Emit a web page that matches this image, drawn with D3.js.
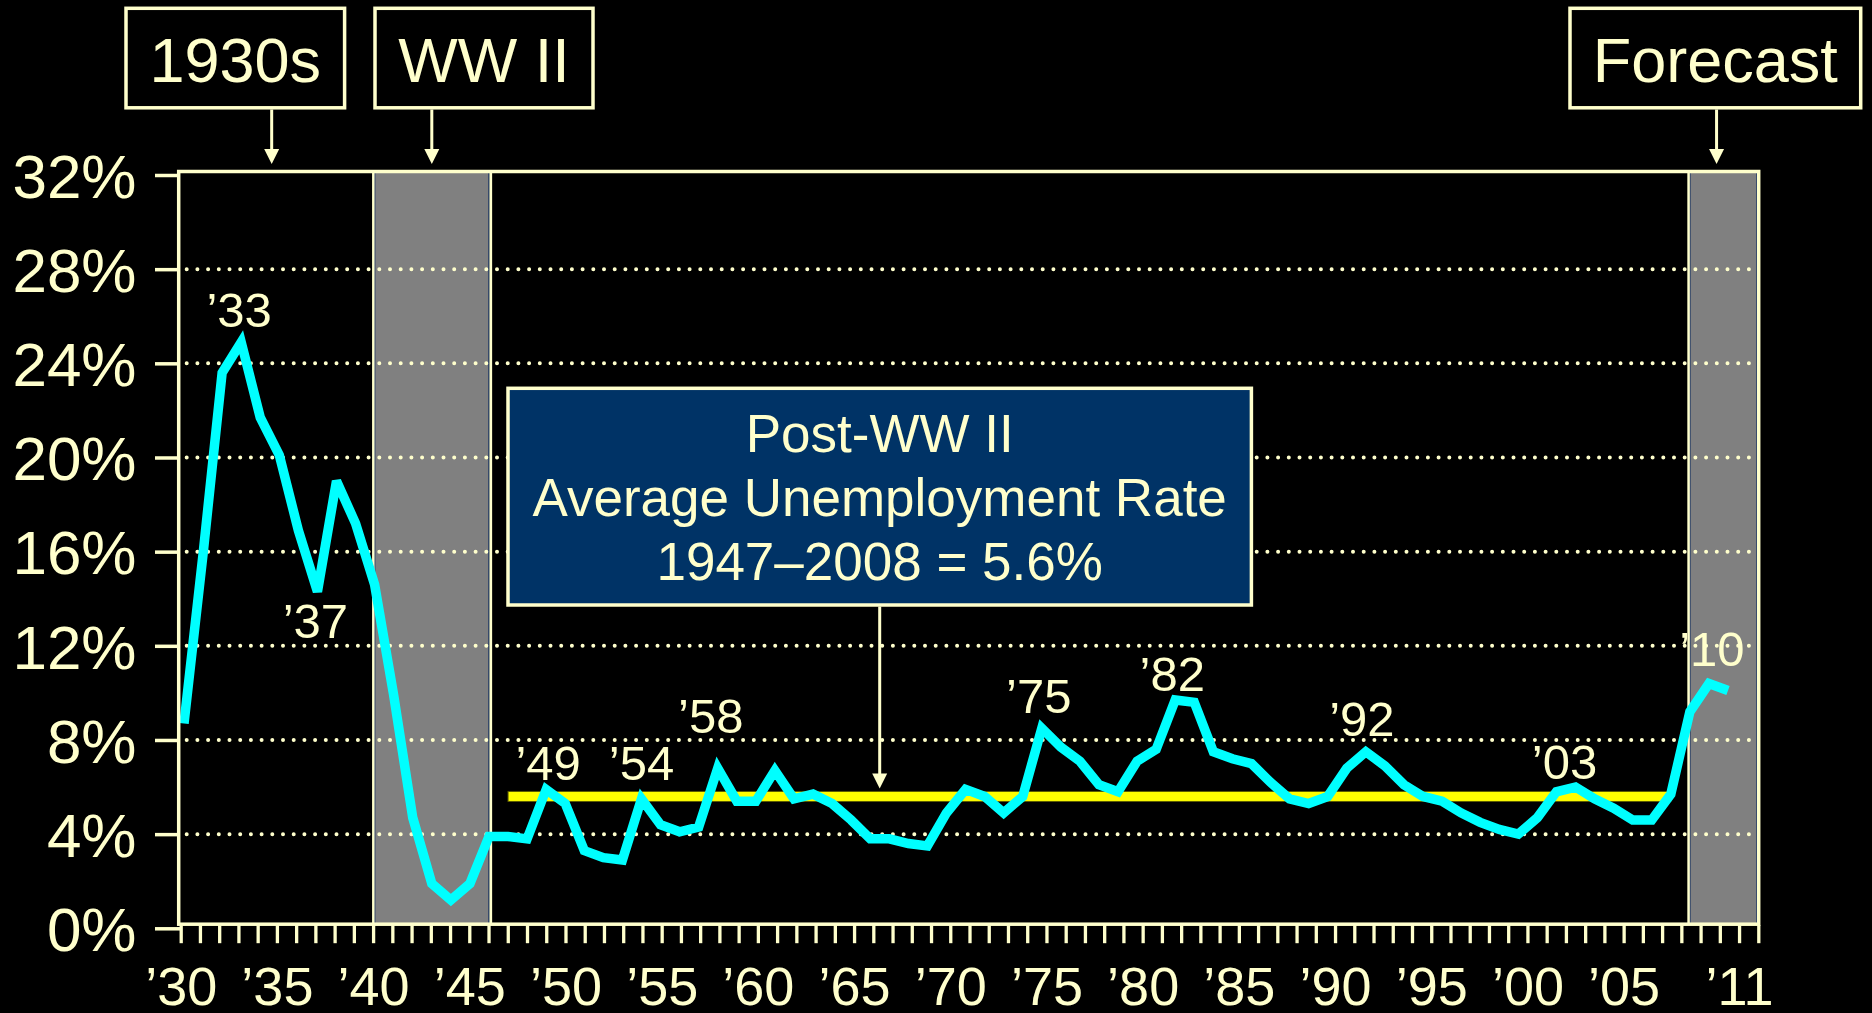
<!DOCTYPE html>
<html>
<head>
<meta charset="utf-8">
<script src="https://cdn.jsdelivr.net/npm/d3@7"></script>
<style>
body { margin: 0; background: #000; }
svg { display: block; font-family: "Liberation Sans", Arial, sans-serif; }
</style>
</head>
<body>
<div id="chart"></div>
<script>
//Data: annual unemployment rate, %
const years = [
  1930, 1931, 1932, 1933, 1934, 1935, 1936, 1937, 1938, 1939,
  1940, 1941, 1942, 1943, 1944, 1945, 1946, 1947, 1948, 1949,
  1950, 1951, 1952, 1953, 1954, 1955, 1956, 1957, 1958, 1959,
  1960, 1961, 1962, 1963, 1964, 1965, 1966, 1967, 1968, 1969,
  1970, 1971, 1972, 1973, 1974, 1975, 1976, 1977, 1978, 1979,
  1980, 1981, 1982, 1983, 1984, 1985, 1986, 1987, 1988, 1989,
  1990, 1991, 1992, 1993, 1994, 1995, 1996, 1997, 1998, 1999,
  2000, 2001, 2002, 2003, 2004, 2005, 2006, 2007, 2008, 2009,
  2010, 2011
]
const rates = [
  8.7, 15.9, 23.6, 24.9, 21.7, 20.1, 16.9, 14.3, 19.0, 17.2,
  14.6, 9.9, 4.7, 1.9, 1.2, 1.9, 3.9, 3.9, 3.8, 5.9,
  5.3, 3.3, 3.0, 2.9, 5.5, 4.4, 4.1, 4.3, 6.8, 5.4,
  5.4, 6.7, 5.5, 5.7, 5.3, 4.6, 3.8, 3.8, 3.6, 3.5,
  4.9, 5.9, 5.6, 4.9, 5.6, 8.5, 7.7, 7.1, 6.1, 5.8,
  7.1, 7.6, 9.7, 9.6, 7.5, 7.2, 7.0, 6.2, 5.5, 5.3,
  5.6, 6.8, 7.5, 6.9, 6.1, 5.6, 5.4, 4.9, 4.5, 4.2,
  4.0, 4.7, 5.8, 6.0, 5.5, 5.1, 4.6, 4.6, 5.7, 9.2,
  10.4, 10.1
]

//labelled turning points
const peakYears = [1933, 1937, 1949, 1954, 1958, 1975, 1982, 1992, 2003, 2010]
const peakLabels = ["\u201933", "\u201937", "\u201949", "\u201954", "\u201958",
                    "\u201975", "\u201982", "\u201992", "\u201903", "\u201910"]

//shaded periods + boxes on top
const periodNames = ["1930s", "WW II", "Forecast"]
const periodArrowYears = [1934.6, 1943, 2010.4]
const shadedFrom = [1940, 2009]
const shadedTo = [1946, null] //null = to the end of the plot

//post-war average
const avgRate = 5.6
const avgFrom = 1947
const avgTo = 2008
const calloutLines = ["Post-WW II", "Average Unemployment Rate", "1947\u20132008 = 5.6%"]

//axes
const yTicks = [0, 4, 8, 12, 16, 20, 24, 28, 32]
const gridValues = [4, 8, 12, 16, 20, 24, 28]
const xLabelYears = [1930, 1935, 1940, 1945, 1950, 1955, 1960, 1965, 1970, 1975,
                     1980, 1985, 1990, 1995, 2000, 2005, 2011]

/**************************
** layout
***************************/
const width = 1872, height = 1013
const cream = "#FFFFCC"
const frame = { left: 178.7, top: 171.5, right: 1758.7, bottom: 924.2 }

//label position relative to its data point [dx, dy of baseline]
const labelOffsets = [[-2, -15], [-2, 46], [2, -9], [0, -19], [-7, -35],
                      [-3, -15], [-3, -9], [-4, -16], [-11, -8], [3, -17]]
//boxes above the plot
const periodBoxes = [{ x: 126, w: 218.6 }, { x: 375, w: 218 }, { x: 1570, w: 290.7 }]
const callout = { x: 508, y: 388.3, w: 743.4, h: 216.7 }

//Scales
const yScale = d3.scaleLinear().domain([0, 32]).range([928.3, 175])
//data points sit a bit tighter than the tick marks
const xScale = d3.scaleLinear().domain([1930, 2011]).range([184, 1728])
const xTick = d3.scaleLinear().domain([1930, 2012]).range([180.7, 1758.3])

const svg = d3.select("#chart").append("svg")
  .attr("width", width)
  .attr("height", height)

svg.append("rect").attr("width", width).attr("height", height).attr("fill", "#000")

//shaded bands
shadedFrom.forEach(function (a, i) {
  let x0 = xScale(a)
  let x1 = shadedTo[i] === null ? frame.right - 1.75 : xScale(shadedTo[i])
  svg.append("rect")
    .attr("x", x0).attr("y", frame.top)
    .attr("width", x1 - x0).attr("height", frame.bottom - frame.top)
    .attr("fill", "#808080")
    .attr("stroke", "#1F3864").attr("stroke-width", 1.5)
  svg.append("line")
    .attr("x1", x0 - 1.3).attr("x2", x0 - 1.3)
    .attr("y1", frame.top).attr("y2", frame.bottom)
    .attr("stroke", cream).attr("stroke-width", 2.5)
  if (shadedTo[i] !== null) {
    svg.append("line")
      .attr("x1", x1 + 1.8).attr("x2", x1 + 1.8)
      .attr("y1", frame.top).attr("y2", frame.bottom)
      .attr("stroke", cream).attr("stroke-width", 2.7)
  }
})

//dotted gridlines
svg.append("g").selectAll("line")
  .data(gridValues)
  .join("line")
  .attr("x1", 186.7).attr("x2", frame.right - 2)
  .attr("y1", d => yScale(d)).attr("y2", d => yScale(d))
  .attr("stroke", cream)
  .attr("stroke-width", 4)
  .attr("stroke-linecap", "round")
  .attr("stroke-dasharray", "0 10.7")

//average bar
svg.append("rect")
  .attr("x", xScale(avgFrom))
  .attr("y", yScale(avgRate) - 5)
  .attr("width", xScale(avgTo) - xScale(avgFrom))
  .attr("height", 10)
  .attr("fill", "#FFFF00")
  .attr("stroke", "#5c5c00")
  .attr("stroke-width", 1)

//the unemployment line
const line = d3.line()
  .x((d, i) => xScale(years[i]))
  .y(d => yScale(d))

svg.append("path")
  .datum(rates)
  .attr("d", line)
  .attr("fill", "none")
  .attr("stroke", "#00FFFF")
  .attr("stroke-width", 9.5)
  .attr("stroke-linejoin", "miter")
  .attr("stroke-miterlimit", 3)

//frame
svg.append("rect")
  .attr("x", frame.left).attr("y", frame.top)
  .attr("width", frame.right - frame.left)
  .attr("height", frame.bottom - frame.top)
  .attr("fill", "none")
  .attr("stroke", cream)
  .attr("stroke-width", 3.5)

//x axis
const xAxis = d3.axisBottom(xTick)
  .tickValues(d3.range(1930, 2013))
  .tickSize(18)
  .tickPadding(23)
  .tickFormat(d => xLabelYears.includes(d) ? "\u2019" + String(d).slice(2) : "")

const gx = svg.append("g")
  .attr("transform", "translate(0," + (frame.bottom + 1) + ")")
  .call(xAxis)
gx.select(".domain").remove()
gx.selectAll(".tick line").attr("stroke", cream).attr("stroke-width", 3.3)
gx.selectAll(".tick text")
  .attr("fill", cream)
  .attr("font-size", 54)
  .attr("font-family", "Liberation Sans, Arial, sans-serif")

//y axis
const yAxis = d3.axisLeft(yScale)
  .tickValues(yTicks)
  .tickSize(25)
  .tickPadding(18.5)
  .tickFormat(d => d + "%")

const gy = svg.append("g")
  .attr("transform", "translate(180,0)")
  .call(yAxis)
gy.select(".domain").remove()
gy.selectAll(".tick line").attr("stroke", cream).attr("stroke-width", 3.5)
gy.selectAll(".tick text")
  .attr("fill", cream)
  .attr("font-size", 62)
  .attr("dy", "0.36em")
  .attr("font-family", "Liberation Sans, Arial, sans-serif")

//year labels at turning points
svg.append("g").selectAll("text")
  .data(peakYears)
  .join("text")
  .attr("x", (d, i) => xScale(d) + labelOffsets[i][0])
  .attr("y", (d, i) => yScale(rates[years.indexOf(d)]) + labelOffsets[i][1])
  .attr("text-anchor", "middle")
  .attr("fill", cream)
  .attr("font-size", 49)
  .text((d, i) => peakLabels[i])

//arrow helper
function drawArrow(x, y1, y2) {
  svg.append("line")
    .attr("x1", x).attr("x2", x)
    .attr("y1", y1).attr("y2", y2 - 12)
    .attr("stroke", cream).attr("stroke-width", 3)
  svg.append("path")
    .attr("d", "M" + (x - 7.5) + "," + (y2 - 15) + "L" + (x + 7.5) + "," + (y2 - 15) + "L" + x + "," + y2 + "Z")
    .attr("fill", cream)
}

//period boxes
periodNames.forEach(function (name, i) {
  let b = periodBoxes[i]
  svg.append("rect")
    .attr("x", b.x).attr("y", 8.3)
    .attr("width", b.w).attr("height", 99.5)
    .attr("fill", "#000")
    .attr("stroke", cream).attr("stroke-width", 3.5)
  svg.append("text")
    .attr("x", b.x + b.w / 2)
    .attr("y", 81.7)
    .attr("text-anchor", "middle")
    .attr("fill", cream)
    .attr("font-size", 63)
    .text(name)
  drawArrow(xScale(periodArrowYears[i]), 109.5, 164)
})

//callout box
svg.append("rect")
  .attr("x", callout.x).attr("y", callout.y)
  .attr("width", callout.w).attr("height", callout.h)
  .attr("fill", "#003366")
  .attr("stroke", cream).attr("stroke-width", 3.5)

svg.append("g").selectAll("text")
  .data(calloutLines)
  .join("text")
  .attr("x", callout.x + callout.w / 2)
  .attr("y", (d, i) => 451.7 + i * 64.2)
  .attr("text-anchor", "middle")
  .attr("fill", cream)
  .attr("font-size", 53)
  .text(d => d)

drawArrow(callout.x + callout.w / 2, callout.y + callout.h + 1.5, yScale(avgRate) - 8)
</script>
</body>
</html>
